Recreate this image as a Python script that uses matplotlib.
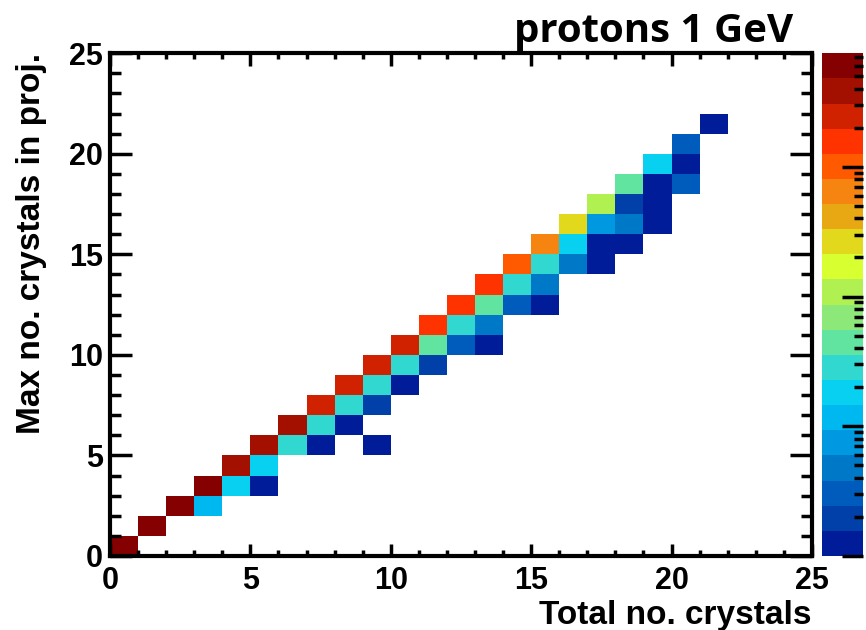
import numpy as np
import matplotlib
matplotlib.use('Agg')
import matplotlib.pyplot as plt
from matplotlib.colors import ListedColormap, LogNorm
from matplotlib.ticker import MultipleLocator, FixedLocator

# bin contents (x bin, y bin, counts)
x_bins = [0, 1, 2, 3, 3, 4, 5, 4, 5, 5, 6, 7, 9, 6, 7, 8,
          7, 8, 9, 8, 9, 10, 9, 10, 11, 10, 11, 12, 13,
          11, 12, 13, 12, 13, 14, 15, 13, 14, 15, 14, 15, 16, 17,
          15, 16, 17, 18, 16, 17, 18, 19, 17, 18, 19, 18, 19, 20,
          19, 20, 20, 21]
y_bins = [0, 1, 2, 2, 3, 3, 3, 4, 4, 5, 5, 5, 5, 6, 6, 6,
          7, 7, 7, 8, 8, 8, 9, 9, 9, 10, 10, 10, 10,
          11, 11, 11, 12, 12, 12, 12, 13, 13, 13, 14, 14, 14, 14,
          15, 15, 15, 15, 16, 16, 16, 16, 17, 17, 17, 18, 18, 18,
          19, 19, 20, 21]
counts = [6000, 6000, 6000, 12, 6000, 18, 1, 3840, 18, 3840, 28, 1, 1, 3840, 28, 1,
          2460, 28, 2, 2460, 28, 1, 2460, 28, 2, 2460, 44, 3, 1,
          1570, 28, 5, 1570, 44, 3, 1, 1570, 28, 5, 1000, 28, 5, 1,
          640, 18, 1, 1, 260, 7, 5, 1, 108, 2, 1, 44, 1, 3,
          18, 1, 3, 1]

# ROOT-like rainbow palette, 20 levels (low -> high)
palette = ['#001c98', '#0040a8', '#005cbc', '#0078c8', '#0098e0',
           '#00b8f0', '#08d0f0', '#30d8d0', '#60e4a0', '#8ce878',
           '#b0f050', '#d8ff30', '#e2d81c', '#e8a814', '#f58510',
           '#ff5a00', '#ff3300', '#d02200', '#a31000', '#850000']

z_major = [1, 10, 100, 1000]
z_minor = [m * d for d in [1, 10, 100, 1000] for m in range(2, 10) if m * d < 7500]

plt.rcParams['font.family'] = ['Liberation Sans', 'DejaVu Sans']
plt.rcParams['font.weight'] = 'bold'
plt.rcParams['axes.labelweight'] = 'bold'

H = np.zeros((25, 25))
H[y_bins, x_bins] = counts
H = np.ma.masked_equal(H, 0)
edges = np.arange(26)

fig = plt.figure(figsize=(8.66, 6.3), dpi=100)
ax = fig.add_axes([0.127, 0.1175, 0.8106, 0.798])
cax = fig.add_axes([0.949, 0.1175, 0.047, 0.798])

mesh = ax.pcolormesh(edges, edges, H, cmap=ListedColormap(palette),
                     norm=LogNorm(vmin=1, vmax=7500), edgecolors='none')

ax.set_xlim(0, 25)
ax.set_ylim(0, 25)
ax.set_xticks(range(0, 26, 5))
ax.set_yticks(range(0, 26, 5))
ax.xaxis.set_minor_locator(MultipleLocator(1))
ax.yaxis.set_minor_locator(MultipleLocator(1))
ax.tick_params(which='both', direction='in', top=True, right=True, width=2.5,
               labelsize=22)
ax.tick_params(axis='x', which='major', length=9, pad=7)
ax.tick_params(axis='x', which='minor', length=4.5)
ax.tick_params(axis='y', which='major', length=16, pad=5)
ax.tick_params(axis='y', which='minor', length=8)
for s in ax.spines.values():
    s.set_linewidth(3)

ax.set_xlabel('Total no. crystals', fontsize=24, loc='right', labelpad=3)
ax.set_ylabel('Max no. crystals in proj.', fontsize=24, loc='top')
ax.yaxis.set_label_coords(-0.09, 1.0)

cb = fig.colorbar(mesh, cax=cax, ticks=z_major)
cb.outline.set_visible(False)
cb.minorlocator = FixedLocator(z_minor)
cax.yaxis.set_ticks_position('right')
cax.tick_params(which='both', direction='in', width=2.5, labelright=False)
cax.tick_params(which='major', length=15)
cax.tick_params(which='minor', length=6.5)

fig.text(0.916, 0.933, 'protons 1 GeV', ha='right', va='baseline',
         fontsize=29, fontweight='bold', family=['Open Sans', 'DejaVu Sans'])

fig.savefig('out.png', dpi=100)
